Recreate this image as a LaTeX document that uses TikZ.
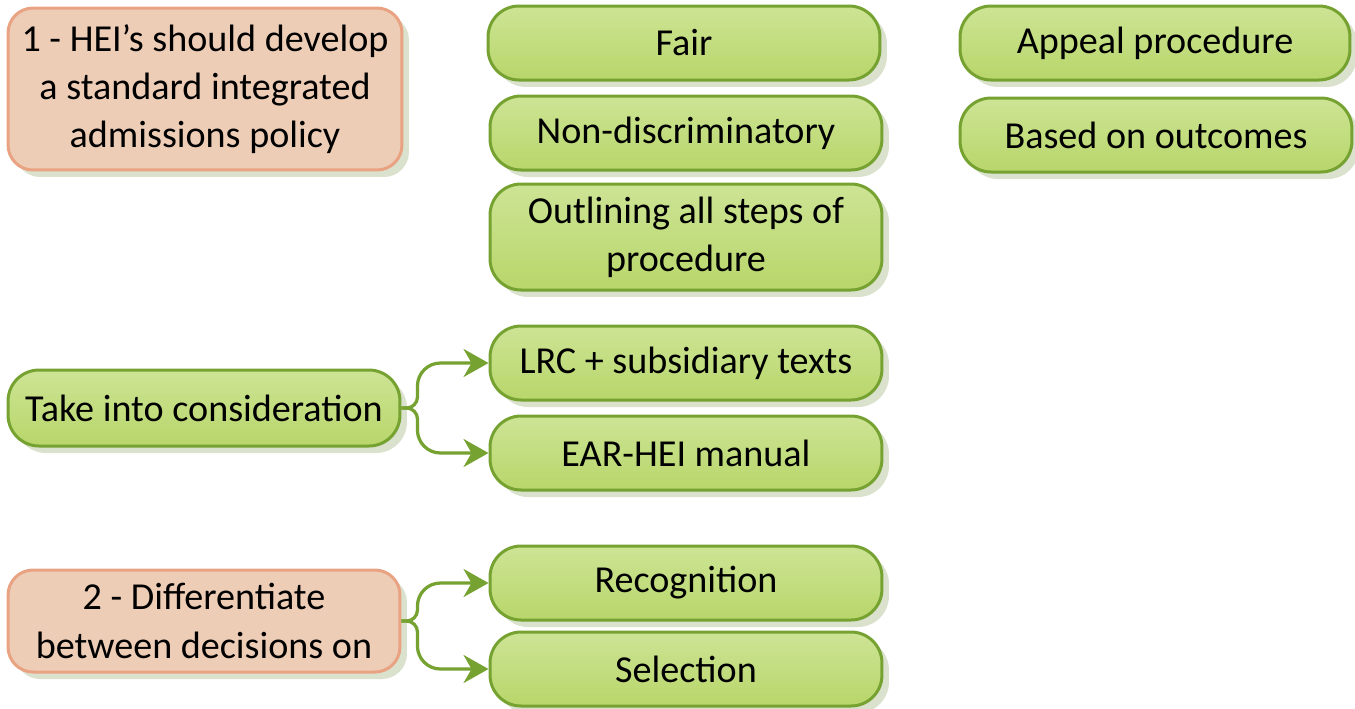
\documentclass[tikz,border=0pt]{standalone}
\usepackage{fontspec}
\setmainfont{Carlito}
\usetikzlibrary{arrows.meta,shadows}

\definecolor{leafgreen}{HTML}{B8D66A}
\definecolor{leaflight}{HTML}{CDE495}
\definecolor{leafedge}{HTML}{76A232}
\definecolor{rootfill}{HTML}{EECDB6}
\definecolor{rootedge}{HTML}{E9A383}
\definecolor{shadowc}{HTML}{DAE1CC}

\tikzset{
  box/.style={draw, line width=0.06cm, rounded corners=0.62cm, align=center,
    inner sep=0pt, font=\fontsize{21.7}{27.5}\selectfont, text=black,
    drop shadow={shadow xshift=0.14cm, shadow yshift=-0.14cm, fill=shadowc, opacity=1}},
  leaf/.style={box, draw=leafedge, top color=leaflight, bottom color=leafgreen,
    minimum width=7.84cm, minimum height=1.48cm},
  root/.style={box, draw=rootedge, fill=rootfill, rounded corners=0.5cm,
    minimum width=7.88cm},
  link/.style={draw=leafedge, line width=0.065cm, rounded corners=0.22cm,
    -{Stealth[length=0.5cm,width=0.56cm,inset=0.16cm]}},
}

\begin{document}
\begin{tikzpicture}[x=0.02cm, y=-0.02cm]
    \useasboundingbox (0,0) rectangle (1355,708);
    % first recommendation and its criteria
    \node[root, minimum height=3.24cm] (policy) at (205,89)
        {1 - HEI's should develop\\a standard integrated\\admissions policy};
    \node[leaf] (fair) at (684,43) {Fair};
    \node[leaf] (nondisc) at (686,133) {Non-discriminatory};
    \node[leaf, minimum height=2.12cm] (steps) at (686,237)
        {Outlining all steps of\\procedure};
    \node[leaf, minimum width=7.8cm] (appeal) at (1155,43) {Appeal procedure};
    \node[leaf] (outcomes) at (1156,135) {Based on outcomes};
    % sources to consider
    \node[leaf, minimum height=1.52cm] (consider) at (204,408) {Take into consideration};
    \node[leaf] (lrc) at (686,363) {LRC + subsidiary texts};
    \node[leaf] (manual) at (686,453) {EAR-HEI manual};
    % second recommendation
    \node[root, minimum width=7.84cm, minimum height=2.04cm] (decide) at (204,621)
        {2 - Differentiate\\between decisions on};
    \node[leaf] (recog) at (686,583) {Recognition};
    \node[leaf] (select) at (686,669) {Selection};
    % forks
    \draw[link] (consider.east) -- ++(16,0) [rounded corners=0.46cm] |- (lrc.west);
    \draw[link] (consider.east) -- ++(16,0) [rounded corners=0.46cm] |- (manual.west);
    \draw[link] (decide.east) -- ++(16,0) [rounded corners=0.46cm] |- (recog.west);
    \draw[link] (decide.east) -- ++(16,0) [rounded corners=0.46cm] |- (select.west);
\end{tikzpicture}
\end{document}
